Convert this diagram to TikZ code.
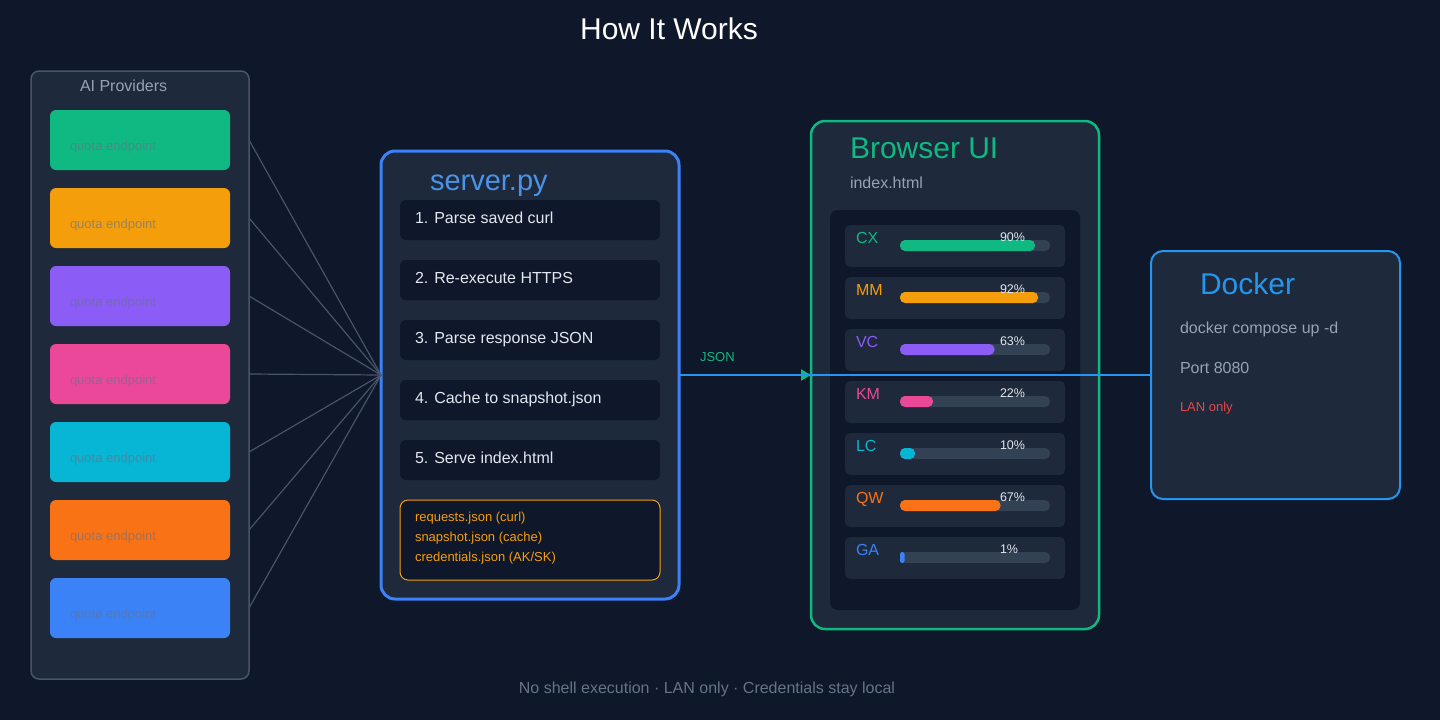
\documentclass[tikz,border=0pt]{standalone}
\usepackage{fontspec}
\setmainfont{Liberation Sans}
\usetikzlibrary{arrows.meta}

\definecolor{bg}{HTML}{0F172A}
\definecolor{panelbg}{HTML}{1E293B}
\definecolor{darkbox}{HTML}{0F172A}
\definecolor{slateline}{HTML}{475569}
\definecolor{track}{HTML}{334155}
\definecolor{mutedtxt}{HTML}{94A3B8}
\definecolor{foottxt}{HTML}{64748B}
\definecolor{lighttxt}{HTML}{E2E8F0}
\definecolor{cgreen}{HTML}{10B981}
\definecolor{camber}{HTML}{F59E0B}
\definecolor{cpurple}{HTML}{8B5CF6}
\definecolor{cpink}{HTML}{EC4899}
\definecolor{ccyan}{HTML}{06B6D4}
\definecolor{corange}{HTML}{F97316}
\definecolor{cblue}{HTML}{3B82F6}
\definecolor{srvtitle}{HTML}{4B93E8}
\definecolor{dockblue}{HTML}{2496ED}
\definecolor{lanred}{HTML}{EF4444}

\newcommand\pxsize[1]{\fontsize{#1}{#1}\selectfont}

\begin{document}
\begin{tikzpicture}[x=1pt,y=-1pt,
  sized/.style 2 args={minimum width=#1, minimum height=#2, inner sep=0pt, outer sep=0pt},
  panel/.style={fill=panelbg, rounded corners=#1},
  provbox/.style={fill=#1, rounded corners=6, sized={180}{60}},
  stepbox/.style={fill=darkbox, rounded corners=6, sized={260}{40}},
  rowbox/.style={fill=panelbg, rounded corners=5, sized={220}{42}},
  txt/.style={anchor=base west, inner sep=0pt, outer sep=0pt},
  fan/.style={draw=slateline, line width=1.2pt},
]
\useasboundingbox (0,0) rectangle (1440,720);
\fill[bg] (0,0) rectangle (1440,720);

% heading
\node[anchor=base, inner sep=0pt, text=white] (title) at (669,39) {\pxsize{30}How It Works};

% ---------- providers column ----------
\node[panel=8, draw=slateline, line width=1.5pt, sized={218}{608}] (prov) at (140,375) {};
\node[txt, text=mutedtxt] (provtitle) at (80,91) {\pxsize{16}AI Providers};
\foreach \c [count=\i] in {cgreen,camber,cpurple,cpink,ccyan,corange,cblue} {
  \node[provbox=\c] (p\i) at (140,{140+78*(\i-1)}) {};
  \node[txt, text=foottxt, text opacity=0.65] (q\i) at (70,{150+78*(\i-1)}) {\pxsize{13}quota endpoint};
}

% ---------- server ----------
\node[panel=14, draw=cblue, line width=3pt, sized={298}{448}] (server) at (530,375) {};
\node[txt, text=srvtitle] (srvtitle) at (430,190) {\pxsize{29}server.py};
\foreach \t [count=\i] in {1. Parse saved curl, 2. Re-execute HTTPS, 3. Parse response JSON,
                          4. Cache to snapshot.json, 5. Serve index.html} {
  \node[stepbox] (s\i) at (530,{220+60*(\i-1)}) {};
  \node[txt, text=lighttxt] (st\i) at (415,{223+60*(\i-1)}) {\pxsize{16}\t};
}
\node[fill=darkbox, draw=camber, line width=1pt, rounded corners=8, sized={260}{80}] (files) at (530,540) {};
\node[txt, text=camber] (f1) at (415,521) {\pxsize{13}requests.json (curl)};
\node[txt, text=camber] (f2) at (415,541) {\pxsize{13}snapshot.json (cache)};
\node[txt, text=camber] (f3) at (415,561) {\pxsize{13}credentials.json (AK/SK)};

% fan-in from every provider
\foreach \i in {1,...,7}
  \draw[fan] (p\i.east -| prov.east) -- (server.west);

% ---------- browser ----------
\node[panel=14, draw=cgreen, line width=2.5pt, sized={288}{508}] (browser) at (955,375) {};
\node[txt, text=cgreen] (brtitle) at (850,158) {\pxsize{30}Browser UI};
\node[txt, text=mutedtxt] (brsub) at (850,188) {\pxsize{16}index.html};
\node[fill=darkbox, rounded corners=8, sized={250}{400}] (inner) at (955,410) {};
\foreach \c/\lab/\pct [count=\i] in {cgreen/CX/90, camber/MM/92, cpurple/VC/63, cpink/KM/22,
                                     ccyan/LC/10, corange/QW/67, cblue/GA/1} {
  \pgfmathsetmacro\top{225+52*(\i-1)}
  \pgfmathsetmacro\bw{max(150*\pct/100,4.5)}
  \node[rowbox] (r\i) at (955,{\top+21}) {};
  \node[txt, text=\c] (rl\i) at (856,{\top+18}) {\pxsize{16}\lab};
  \fill[track, rounded corners=5] (900,{\top+15}) rectangle (1050,{\top+26});
  \fill[\c, rounded corners={min(5,\bw/2)}] (900,{\top+15}) rectangle ({900+\bw},{\top+26});
  \node[txt, text=lighttxt] (rp\i) at (1000,{\top+16}) {\pxsize{12.5}\pct\%};
}

% ---------- docker ----------
\node[panel=12, draw=dockblue, line width=2pt, sized={249}{248}] (docker) at (1275.5,375) {};
\node[txt, text=dockblue] (dktitle) at (1200,294) {\pxsize{30}Docker};
\node[txt, text=mutedtxt] (dk1) at (1180,333) {\pxsize{16}docker compose up -d};
\node[txt, text=mutedtxt] (dk2) at (1180,373) {\pxsize{16}Port 8080};
\node[txt, text=lanred] (dk3) at (1180,411) {\pxsize{13}LAN only};

% ---------- data flow ----------
\draw[cgreen, line width=2pt, -{Triangle[length=10pt,width=11pt]}] (server.east) -- (browser.west);
\node[txt, text=cgreen] (jsonlbl) at (700,361) {\pxsize{13}JSON};
\draw[dockblue, line width=2pt] (server.east) -- (docker.west);

% footer
\node[anchor=base, inner sep=0pt, text=foottxt] (footer) at (707,693)
  {\pxsize{16}No shell execution · LAN only · Credentials stay local};
\end{tikzpicture}
\end{document}
